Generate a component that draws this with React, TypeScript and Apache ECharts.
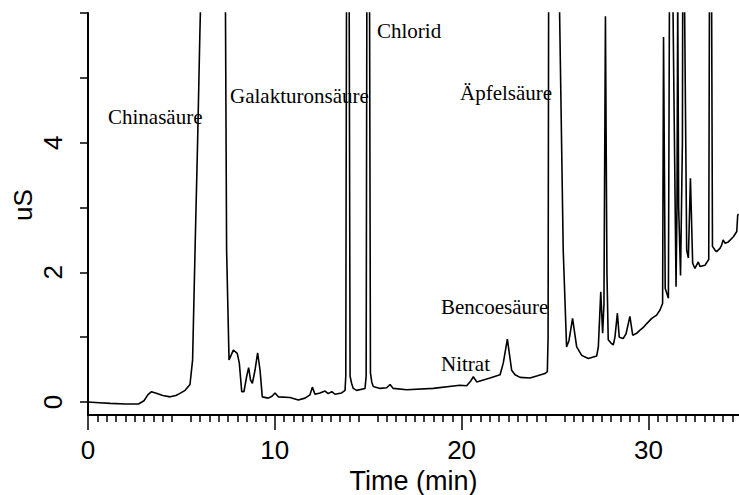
import React, { useEffect, useRef } from "react";
import * as echarts from "echarts";

// Retention time (min) and conductivity (uS) of the anion chromatogram trace.
// Peaks that run off the top of the plot are clipped by the grid.
const timeMin = [
  0.0, 0.6, 1.2, 2.0, 2.7, 3.0, 3.2, 3.4, 3.7, 4.0, 4.4, 4.7, 4.9, 5.2, 5.46, 5.6, 5.73, 5.87, 5.99, 6.1,
  6.7, 7.3, 7.36, 7.42, 7.55, 7.78, 7.99, 8.1, 8.23, 8.35, 8.49, 8.6, 8.7, 8.8, 8.94, 9.08, 9.21, 9.33,
  9.65, 9.85, 10.01, 10.19, 10.81, 11.26, 11.62, 11.88, 12.01, 12.15, 12.42, 12.69, 12.86, 13.05, 13.22,
  13.58, 13.76, 13.8, 13.84, 13.91, 13.98, 14.03, 14.11, 14.2, 14.38, 14.83, 14.89, 14.93, 15.0, 15.07,
  15.12, 15.19, 15.27, 15.63, 15.99, 16.17, 16.34, 17.06, 18.48, 19.91, 20.27, 20.5, 20.63, 20.81, 21.52,
  22.06, 22.23, 22.45, 22.68, 22.86, 23.13, 23.66, 24.02, 24.46, 24.59, 24.63, 24.66, 24.95, 25.22, 25.44,
  25.62, 25.75, 25.94, 26.16, 26.43, 26.78, 27.23, 27.32, 27.45, 27.55, 27.62, 27.7, 27.78, 27.85, 28.03,
  28.12, 28.21, 28.34, 28.44, 28.65, 28.8, 29.01, 29.16, 29.37, 29.55, 29.73, 29.91, 30.18, 30.44, 30.62,
  30.76, 30.81, 30.9, 31.07, 31.13, 31.21, 31.3, 31.48, 31.53, 31.57, 31.62, 31.72, 31.82, 31.88, 31.94,
  32.05, 32.14, 32.25, 32.37, 32.49, 32.67, 32.76, 33.03, 33.23, 33.27, 33.33, 33.38, 33.43, 33.57, 33.65,
  33.83, 33.92, 34.0, 34.1, 34.28, 34.55, 34.73, 34.78, 34.82,
];

const signalUS = [
  0.0, -0.01, -0.02, -0.03, -0.03, 0.02, 0.11, 0.16, 0.13, 0.1, 0.08, 0.1, 0.13, 0.18, 0.27, 0.65, 2.34, 4.04, 5.7, 7.0,
  14.0, 7.0, 6.0, 2.34, 0.65, 0.8, 0.75, 0.6, 0.16, 0.16, 0.39, 0.53, 0.34, 0.29, 0.49, 0.76, 0.49, 0.08,
  0.06, 0.09, 0.14, 0.08, 0.07, 0.03, 0.06, 0.11, 0.23, 0.12, 0.14, 0.17, 0.13, 0.16, 0.12,
  0.14, 0.18, 0.4, 6.5, 12.0, 6.5, 0.4, 0.29, 0.21, 0.18, 0.21, 0.4, 6.5, 12.0, 6.5,
  0.45, 0.31, 0.24, 0.21, 0.22, 0.27, 0.21, 0.19, 0.21, 0.26, 0.25, 0.33, 0.39, 0.31, 0.37,
  0.42, 0.6, 0.97, 0.49, 0.42, 0.38, 0.37, 0.4, 0.44, 0.47, 1.0, 6.5, 20.0, 6.5, 2.34,
  0.85, 0.95, 1.29, 0.85, 0.72, 0.67, 0.71, 0.85, 1.7, 1.06, 1.5, 5.95, 2.0, 0.96, 0.9,
  0.88, 1.0, 1.37, 1.0, 0.98, 1.05, 1.32, 1.03, 1.06, 1.11, 1.15, 1.21, 1.29, 1.34, 1.42,
  1.52, 5.63, 1.75, 1.6, 6.5, 12.0, 6.5, 1.78, 3.0, 6.3, 3.0, 1.95, 4.0, 12.0, 6.0,
  2.34, 2.22, 3.45, 2.14, 2.06, 2.16, 2.09, 2.11, 2.2, 6.5, 12.0, 6.5, 2.4, 2.34, 2.32,
  2.37, 2.42, 2.5, 2.45, 2.47, 2.55, 2.63, 2.88, 2.9,
];

const xTickValues = [0, 10, 20, 30];
const yTickValues = [0, 1, 2, 3, 4, 5, 6];
const yLabelValues = [0, 2, 4];

const peakNames = ["Chinasäure", "Galakturonsäure", "Chlorid", "Äpfelsäure", "Bencoesäure", "Nitrat"];

// Left edge / vertical centre of each peak name, in pixels.
const peakNamePlacement: [number, number][] = [
  [108, 117],
  [230, 96],
  [377, 30.5],
  [460, 92.5],
  [441, 306.5],
  [441, 364],
];

const SANS = "'Liberation Sans', Arial, sans-serif";
const SERIF = "'Liberation Serif', 'Times New Roman', serif";

export default function App() {
  const ref = useRef<HTMLDivElement>(null);

  useEffect(() => {
    if (!ref.current) return;
    const chart = echarts.init(ref.current, null, { renderer: "svg" });
    const trace = timeMin.map((t, i) => [t, signalUS[i]]);

    chart.setOption({
      animation: false,
      backgroundColor: "#ffffff",
      grid: { left: 88, right: 0, top: 13, bottom: 80, outerBoundsMode: "none" },
      xAxis: {
        type: "value",
        min: 0,
        max: 34.85,
        name: "Time (min)",
        nameLocation: "middle",
        nameGap: 46,
        nameTextStyle: { fontFamily: SANS, fontSize: 27, color: "#000" },
        axisLine: { onZero: false, lineStyle: { color: "#000", width: 2 } },
        axisTick: { show: true, length: 15, customValues: xTickValues, lineStyle: { color: "#000", width: 1.5 } },
        minorTick: { show: true, splitNumber: 10, length: 7, lineStyle: { color: "#000", width: 1.5 } },
        axisLabel: {
          customValues: xTickValues,
          fontFamily: SANS,
          fontSize: 26,
          color: "#000",
          margin: 22,
        },
        splitLine: { show: false },
        minorSplitLine: { show: false },
      },
      yAxis: {
        type: "value",
        min: -0.2,
        max: 6,
        axisLine: { onZero: false, lineStyle: { color: "#000", width: 2 } },
        axisTick: { show: true, length: 8, customValues: yTickValues, lineStyle: { color: "#000", width: 1.5 } },
        axisLabel: {
          customValues: yLabelValues,
          rotate: 90,
          fontFamily: SANS,
          fontSize: 26,
          color: "#000",
          margin: 22,
        },
        splitLine: { show: false },
      },
      graphic: [
        {
          type: "text",
          x: 22.5,
          y: 205,
          rotation: Math.PI / 2,
          style: {
            text: "uS",
            font: `26px ${SANS}`,
            fill: "#000",
            align: "center",
            verticalAlign: "middle",
          },
        },
        ...peakNames.map((name, i) => ({
          type: "text",
          x: peakNamePlacement[i][0],
          y: peakNamePlacement[i][1],
          style: {
            text: name,
            font: `21px ${SERIF}`,
            fill: "#000",
            align: "left",
            verticalAlign: "middle",
          },
        })),
      ],
      series: [
        {
          type: "line",
          data: trace,
          showSymbol: false,
          clip: true,
          lineStyle: { color: "#000", width: 1.6 },
        },
      ],
    });

    return () => chart.dispose();
  }, []);

  return (
    <div
      ref={ref}
      style={{ position: "absolute", left: 0, top: 0, width: 739, height: 495, background: "#fff" }}
    />
  );
}
